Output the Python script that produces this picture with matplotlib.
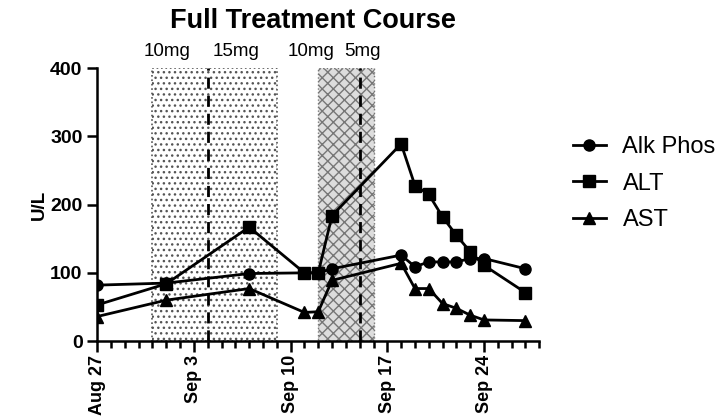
import numpy as np
import matplotlib
matplotlib.use("Agg")
import matplotlib.pyplot as plt
import matplotlib.dates as mdates

plt.rcParams['font.family'] = ['Liberation Sans', 'DejaVu Sans']

# sample dates (same for all three enzymes)
dates = np.array(['2018-08-27', '2018-09-01', '2018-09-07', '2018-09-11', '2018-09-12',
                  '2018-09-13', '2018-09-18', '2018-09-19', '2018-09-20', '2018-09-21',
                  '2018-09-22', '2018-09-23', '2018-09-24', '2018-09-27'], dtype='datetime64[D]')
alk_phos = [82, 85, 99, 100, 100, 106, 126, 109, 116, 116, 116, 121, 121, 106]
alt = [53, 84, 167, 100, 100, 184, 289, 228, 215, 182, 155, 131, 111, 71]
ast = [36, 60, 77, 42, 43, 89, 114, 77, 77, 55, 48, 38, 31, 30]

# treatment periods and dose changes
period_one = ('2018-08-31', '2018-09-09')
period_two = ('2018-09-12', '2018-09-16')
dose_changes = ['2018-09-04', '2018-09-15']
dose_labels = ['10mg', '15mg', '10mg', '5mg']
dose_label_dates = ['2018-09-01 02:00', '2018-09-06 02:00', '2018-09-11 12:00', '2018-09-15 05:00']

x_ticks = ['2018-08-27', '2018-09-03', '2018-09-10', '2018-09-17', '2018-09-24']
x_labels = ['Aug 27', 'Sep 3', 'Sep 10', 'Sep 17', 'Sep 24']
x_start, x_end = np.datetime64('2018-08-27'), np.datetime64('2018-09-28')

fig = plt.figure(figsize=(7.2, 4.18), dpi=100)
ax = fig.add_axes([0.135, 0.184, 0.614, 0.653])

p1 = [np.datetime64(d) for d in period_one]
p2 = [np.datetime64(d) for d in period_two]
ax.axvspan(p1[0], p1[1], facecolor='white', edgecolor='#555555', hatch='...',
           linestyle=':', linewidth=1.2, zorder=0)
ax.axvspan(p2[0], p2[1], facecolor='#dddddd', edgecolor='#777777', hatch='xxx',
           linestyle=':', linewidth=1.0, zorder=0)
for d in dose_changes:
    ax.axvline(np.datetime64(d), color='black', linestyle=(0, (4, 2.5)), linewidth=2, zorder=1)

ax.plot(dates, alk_phos, color='black', marker='o', markersize=8, linewidth=2, label='Alk Phos', zorder=3)
ax.plot(dates, alt, color='black', marker='s', markersize=8, linewidth=2, label='ALT', zorder=3)
ax.plot(dates, ast, color='black', marker='^', markersize=8, linewidth=2, label='AST', zorder=3)

for lbl, d in zip(dose_labels, dose_label_dates):
    ax.text(np.datetime64(d), 425, lbl, ha='center', va='center', fontsize=13.5, clip_on=False)

ax.set_xlim(x_start, x_end)
ax.set_ylim(0, 400)
ax.set_yticks([0, 100, 200, 300, 400])
ax.set_xticks([np.datetime64(d) for d in x_ticks])
ax.set_xticklabels(x_labels)
ax.xaxis.set_minor_locator(mdates.DayLocator())
ax.tick_params(axis='x', which='major', length=8, width=1.8, labelrotation=90, pad=2)
ax.tick_params(axis='x', which='minor', length=5, width=1.8)
ax.tick_params(axis='y', length=7, width=1.8)
for t in ax.get_xticklabels():
    t.set_fontweight('bold')
    t.set_fontsize(13)
for t in ax.get_yticklabels():
    t.set_fontweight('bold')
    t.set_fontsize(14)

for s in ['top', 'right']:
    ax.spines[s].set_visible(False)
for s in ['left', 'bottom']:
    ax.spines[s].set_linewidth(1.8)

ax.set_ylabel('U/L', fontsize=13.5, fontweight='bold')
ax.yaxis.set_label_coords(-0.112, 0.5)
ax.text(0.488, 1.172, 'Full Treatment Course', transform=ax.transAxes, ha='center', va='center',
        fontsize=19.5, fontweight='bold')
ax.legend(loc='upper left', bbox_to_anchor=(1.028, 0.828), frameon=False, fontsize=17,
          handlelength=1.4, handletextpad=0.7, labelspacing=0.61)

fig.savefig('out.png', dpi=100)
